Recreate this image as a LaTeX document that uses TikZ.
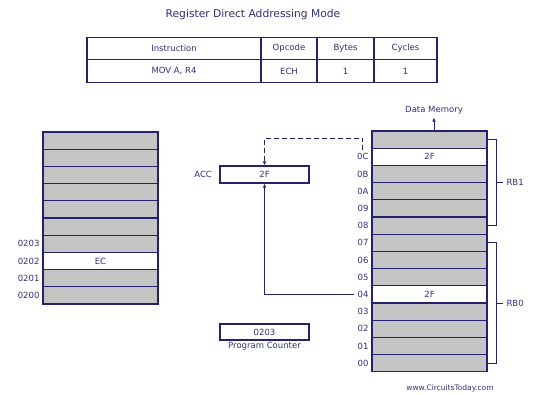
\documentclass[tikz,border=0pt]{standalone}
\usepackage{fontspec}
\setmainfont{DejaVu Sans}
\usepackage{tikz}
\usetikzlibrary{positioning,arrows.meta}
\definecolor{navy}{HTML}{22226E}
\definecolor{inkblue}{HTML}{30307A}
\definecolor{cellgray}{HTML}{C4C4C4}

\begin{document}
\begin{tikzpicture}[x=1pt, y=-1pt, every node/.style={font=\fontsize{8.5}{10}\selectfont, text=inkblue}, cell/.style={draw=navy, line width=1.1pt, fill=cellgray, minimum width=115pt, minimum height=17.2pt, inner sep=0pt, outer sep=0pt}, used/.style={cell, fill=white}, reg/.style={draw=navy, line width=1.1pt, minimum width=89pt, minimum height=17pt, inner sep=0pt}, tcell/.style={draw=navy, line width=1.1pt, minimum height=22.5pt, inner sep=0pt, outer sep=0pt}, link/.style={draw=navy, line width=0.9pt, -{Latex[length=4pt,width=3.5pt]}}]
\fill[white] (0,0) rectangle (534,394);
\useasboundingbox (0,0) rectangle (534,394);
\node[font=\fontsize{10.7}{12}\selectfont] (title) at (253,15) {Register Direct Addressing Mode};
% instruction table
\node[tcell, minimum width=174pt] (instr) at (174,48.5) {Instruction};
\node[tcell, minimum width=56pt, right=0pt of instr] (opcode) {Opcode};
\node[tcell, minimum width=57pt, right=0pt of opcode] (bytes) {Bytes};
\node[tcell, minimum width=63pt, right=0pt of bytes] (cycles) {Cycles};
\node[tcell, minimum width=174pt, below=0pt of instr] (instrv) {MOV A, R4};
\node[tcell, minimum width=56pt, below=0pt of opcode] (opcodev) {ECH};
\node[tcell, minimum width=57pt, below=0pt of bytes] (bytesv) {1};
\node[tcell, minimum width=63pt, below=0pt of cycles] (cyclesv) {1};
% program memory
\node[cell] (p9) at (100.5,140.6) {};
\node[cell, below=0pt of p9] (p8) {};
\node[cell, below=0pt of p8] (p7) {};
\node[cell, below=0pt of p7] (p6) {};
\node[cell, below=0pt of p6] (p5) {};
\node[cell, below=0pt of p5] (p4) {};
\node[cell, below=0pt of p4, label=left:0203] (p3) {};
\node[used, below=0pt of p3, label=left:0202] (p2) {EC};
\node[cell, below=0pt of p2, label=left:0201] (p1) {};
\node[cell, below=0pt of p1, label=left:0200] (p0) {};
% data memory
\node[cell] (dtop) at (429.5,139.6) {};
\node[used, below=0pt of dtop, label={[name=lC]left:0C}] (dC) {2F};
\node[cell, below=0pt of dC, label=left:0B] (dB) {};
\node[cell, below=0pt of dB, label=left:0A] (dA) {};
\node[cell, below=0pt of dA, label=left:09] (d9) {};
\node[cell, below=0pt of d9, label=left:08] (d8) {};
\node[cell, below=0pt of d8, label=left:07] (d7) {};
\node[cell, below=0pt of d7, label=left:06] (d6) {};
\node[cell, below=0pt of d6, label=left:05] (d5) {};
\node[used, below=0pt of d5, label={[name=l4]left:04}] (d4) {2F};
\node[cell, below=0pt of d4, label=left:03] (d3) {};
\node[cell, below=0pt of d3, label=left:02] (d2) {};
\node[cell, below=0pt of d2, label=left:01] (d1) {};
\node[cell, below=0pt of d1, label=left:00] (d0) {};
\node (dmem) at (434,110) {Data Memory};
\draw[link] (dtop.north -| dmem) -- (dmem);
% register banks
\draw[navy, line width=0.9pt] (dtop.east) -- ++(9,0) |- (d8.east);
\draw[navy, line width=0.9pt] (d7.east) -- ++(9,0) |- (d0.east);
\node[anchor=west] (rb1) at (503,182.6) {RB1};
\node[anchor=west] (rb0) at (503,303.4) {RB0};
\draw[navy, line width=0.9pt] (rb1.west) -- ++(-7,0);
\draw[navy, line width=0.9pt] (rb0.west) -- ++(-7,0);
% registers
\node[reg, label={[label distance=4pt]left:ACC}] (acc) at (264.5,174.5) {2F};
\node[reg, minimum height=16pt, label={[label distance=-2pt]below:Program Counter}] (pc) at (264.5,332) {0203};
\draw[link] (l4.west) -| (acc.south);
\draw[link, dash pattern=on 5pt off 3pt] (lC.north) -- ++(0,-12) -| (acc.north);
\node[font=\fontsize{7.5}{9}\selectfont] (site) at (450,388) {www.CircuitsToday.com};
\end{tikzpicture}
\end{document}
